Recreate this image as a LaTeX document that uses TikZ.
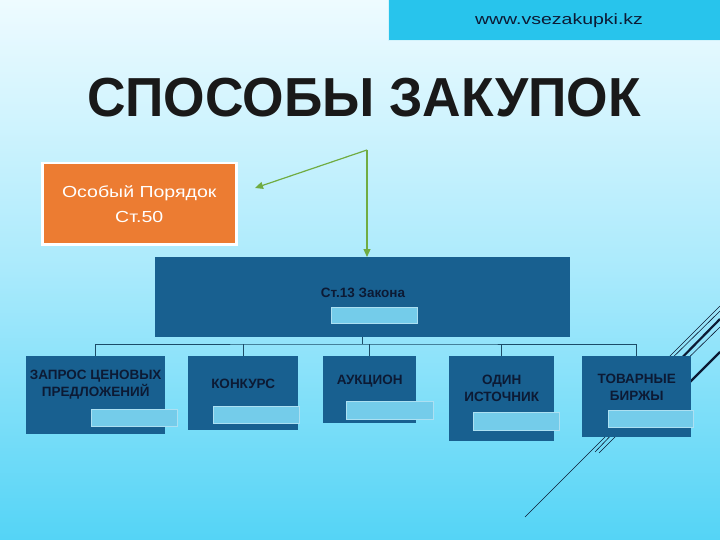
\documentclass[tikz,border=0pt]{standalone}
\usepackage{fontspec}
\setmainfont{Liberation Sans}
\usetikzlibrary{arrows.meta}
\definecolor{bgtop}{RGB}{238,251,255}
\definecolor{bgmid}{RGB}{170,234,252}
\definecolor{bgbot}{RGB}{84,212,246}
\definecolor{banner}{RGB}{40,196,236}
\definecolor{dkblue}{RGB}{24,96,144}
\definecolor{ltblue}{RGB}{116,204,234}
\definecolor{orng}{RGB}{236,124,50}
\definecolor{grn}{RGB}{112,172,66}
\definecolor{navy}{RGB}{12,26,52}
\definecolor{wire}{RGB}{28,76,104}
\begin{document}
\begin{tikzpicture}[x=1pt,y=-1pt,
  blk/.style={rectangle, fill=dkblue, inner sep=0pt, anchor=north west, text=navy,
    font=\fontsize{13.5}{17}\selectfont\bfseries, align=center},
  lite/.style={rectangle, fill=ltblue, draw=ltblue!60!white, line width=0.6pt, inner sep=0pt, anchor=north west},
  garrow/.style={draw=grn, line width=1.2pt, -{Triangle[length=8pt,width=7pt]}},
  wirel/.style={draw=wire, line width=0.9pt},
  deco/.style={draw=navy, line width=0.6pt},
  decothick/.style={draw=navy, line width=2.2pt}]
\useasboundingbox (0,0) rectangle (720,540);
\shade[top color=bgtop, bottom color=bgmid] (0,0) rectangle (720,270);
\shade[top color=bgmid, bottom color=bgbot] (0,270) rectangle (720,540);

% banner
\node (banner) [rectangle, fill=banner, draw=white!80!banner, line width=1pt, inner sep=0pt, anchor=north west,
  minimum width=334pt, minimum height=41pt] at (388,-1) {};
\node (url) [font=\fontsize{15}{17}\selectfont, text=navy, xscale=1.3] at (559,21) {www.vsezakupki.kz};

% title
\node (title) [font=\fontsize{55}{60}\selectfont\bfseries, text=black!90, xscale=0.97] at (364,98) {СПОСОБЫ ЗАКУПОК};

% orange box
\node (osob) [rectangle, fill=orng, draw=white, line width=2.5pt, inner sep=0pt, anchor=north west,
  minimum width=194pt, minimum height=81pt] at (41,162) {};
\node (osobtxt) [text=white, align=center, xscale=1.22, font=\fontsize{16}{25}\selectfont] at (osob) {Особый Порядок\\Ст.50};

% decorative lines (behind the last box)
\draw[deco] (650,376) -- (720,306);
\draw[deco] (656,374) -- (720,311);
\draw[decothick] (664,376) -- (720,319);
\draw[deco] (672,374) -- (720,327);
\draw[decothick] (680,392) -- (720,352);
\draw[deco] (622,420) -- (525,517);
\draw[deco] (616,430) -- (595,452);
\draw[deco] (620,432) -- (599,453);

% big box
\node (big) [blk, minimum width=415pt, minimum height=80pt] at (155,257) {};
\node (bigtxt) [text=navy, font=\fontsize{13.5}{15}\selectfont\bfseries] at (363,293) {Ст.13 Закона};
\node (bigl) [lite, minimum width=86pt, minimum height=16pt] at (331,307) {};

% green arrows
\coordinate (g0) at (367,150);
\coordinate (ga) at (255,188);
\coordinate (gb) at (367,257);
\draw[garrow] (g0) -- (ga);
\draw[garrow] (g0) -- (gb);

% lower boxes
\node (b1) [blk, minimum width=139pt, minimum height=78pt] at (26,356) {ЗАПРОС ЦЕНОВЫХ\\ПРЕДЛОЖЕНИЙ\\[6pt]};
\node (b2) [blk, minimum width=110pt, minimum height=74pt] at (188,356) {КОНКУРС\\[2pt]};
\node (b3) [blk, minimum width=93pt, minimum height=67pt] at (323,356) {АУКЦИОН\\[2pt]};
\node (b4) [blk, minimum width=105pt, minimum height=85pt] at (449,356) {ОДИН\\ИСТОЧНИК\\[4pt]};
\node (b5) [blk, minimum width=109pt, minimum height=81pt] at (582,356) {ТОВАРНЫЕ\\БИРЖЫ\\[2pt]};

\node (l1) [lite, minimum width=86pt, minimum height=17pt] at (91,409) {};
\node (l2) [lite, minimum width=86pt, minimum height=17pt] at (213,406) {};
\node (l3) [lite, minimum width=87pt, minimum height=18pt] at (346,401) {};
\node (l4) [lite, minimum width=86pt, minimum height=18pt] at (473,412) {};
\node (l5) [lite, minimum width=85pt, minimum height=17pt] at (608,410) {};

% connectors
\coordinate (bus) at (362,344);
\draw[wirel] (big.south -| bus) -- (bus);
\draw[wirel] (b1.north) |- (bus) -| (b5.north);
\draw[wirel] (b2.north) -- (b2.north |- bus);
\draw[wirel] (b3.north) -- (b3.north |- bus);
\draw[wirel] (b4.north) -- (b4.north |- bus);
\end{tikzpicture}
\end{document}
